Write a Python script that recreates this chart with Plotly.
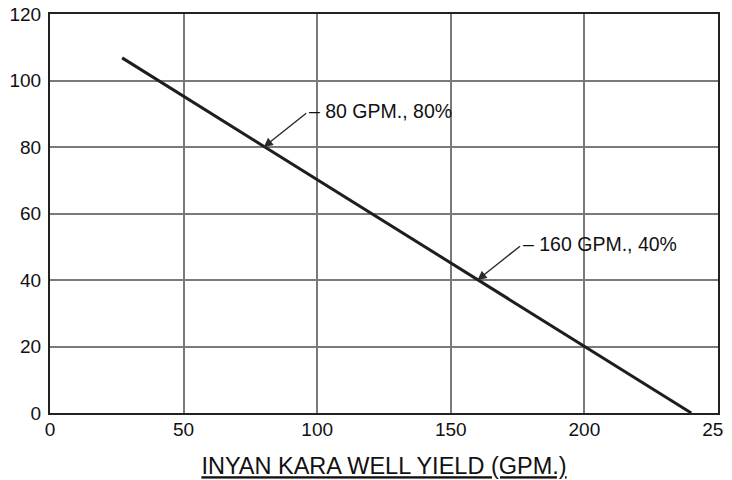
import plotly.graph_objects as go

# Data
well_yield_gpm = [27, 240]
percent = [106.8, 0]

callout_x = [80, 160]
callout_y = [80, 40]
callout_labels = ["80 GPM., 80%", "160 GPM., 40%"]

x_ticks = [0, 50, 100, 150, 200, 250]
y_ticks = [0, 20, 40, 60, 80, 100, 120]

FONT = "Liberation Sans, Arial, sans-serif"
GRID = "#7a7a7a"
INK = "#111111"

fig = go.Figure()
fig.add_trace(go.Scatter(
    x=well_yield_gpm, y=percent, mode="lines",
    line=dict(color="#1e1e1e", width=3),
    showlegend=False, hoverinfo="skip",
))

annotations = []
for cx, cy, lab in zip(callout_x, callout_y, callout_labels):
    # arrow
    annotations.append(dict(
        x=cx, y=cy, xref="x", yref="y", text="",
        showarrow=True, ax=44, ay=-35,
        arrowhead=2, arrowsize=1.3, arrowwidth=1.4, arrowcolor="#2a2a2a",
        standoff=0,
    ))
    # label with short shoulder
    annotations.append(dict(
        x=cx, y=cy, xref="x", yref="y", text="\u2013 " + lab,
        showarrow=False, xanchor="left", yanchor="middle",
        xshift=43, yshift=36,
        font=dict(family=FONT, size=19.5, color=INK),
    ))

# the page body adds an 8px offset, so margins compensate for it
fig.update_layout(
    width=732, height=472,
    margin=dict(l=42, r=22, t=6, b=67),
    paper_bgcolor="white", plot_bgcolor="white",
    font=dict(family=FONT, color=INK),
    annotations=annotations,
    xaxis=dict(
        range=[0, 250], tickvals=x_ticks, ticktext=[str(v) for v in x_ticks],
        showgrid=True, gridcolor=GRID, gridwidth=1.8,
        showline=True, linecolor="#222", linewidth=2, mirror=True,
        ticks="", ticklabelstandoff=-2, ticklabeloverflow="allow",
        tickfont=dict(family=FONT, size=19, color=INK),
        zeroline=False, automargin=False,
        title=dict(text="<u>INYAN KARA WELL YIELD (GPM.)</u>",
                   font=dict(family=FONT, size=23.5, color=INK),
                   standoff=19),
    ),
    yaxis=dict(
        range=[0, 120], tickvals=y_ticks, ticktext=[str(v) for v in y_ticks],
        showgrid=True, gridcolor=GRID, gridwidth=1.8,
        showline=True, linecolor="#222", linewidth=2, mirror=True,
        ticks="", ticklabelstandoff=3, ticklabeloverflow="allow",
        tickfont=dict(family=FONT, size=19, color=INK),
        zeroline=False, automargin=False,
    ),
)

fig.write_html("out.html")
